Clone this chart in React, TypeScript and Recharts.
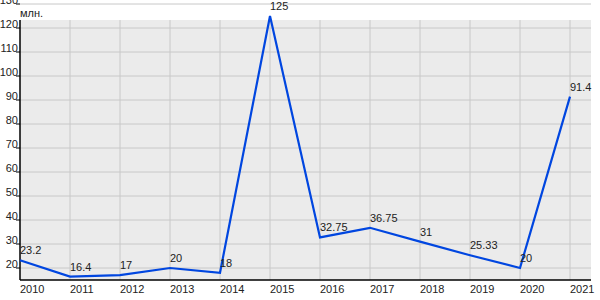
import React from "react"
import {
  ComposedChart,
  Line,
  XAxis,
  YAxis,
  ReferenceArea,
  ReferenceLine,
  LabelList,
} from "recharts"

const years = [2010, 2011, 2012, 2013, 2014, 2015, 2016, 2017, 2018, 2019, 2020, 2021]
const values = [23.2, 16.4, 17, 20, 18, 125, 32.75, 36.75, 31, 25.33, 20, 91.4]
const yTicks = [20, 30, 40, 50, 60, 70, 80, 90, 100, 110, 120, 130]

const data = years.map((year, i) => ({ year, value: values[i] }))

const FONT = "'Liberation Sans', Arial, sans-serif"
const X_MAX = 2021.42
const Y_MIN = 15
const Y_MAX = 130
const BG_TOP = 123.3

const XTick = (props: any) => (
  <text x={props.x} y={props.y} dy={5} textAnchor="start" fontSize={11} fontFamily={FONT} fill="#222">
    {props.payload.value}
  </text>
)

const YTick = (props: any) => (
  <text x={props.x} y={props.y} dx={4} textAnchor="end" fontSize={11} fontFamily={FONT} fill="#222">
    {props.payload.value}
  </text>
)

const PointLabel = (props: any) => (
  <text x={props.x} y={props.y} dy={-6} textAnchor="start" fontSize={11} fontFamily={FONT} fill="#222">
    {props.value}
  </text>
)

export default function App() {
  return (
    <div style={{ position: "absolute", left: 0, top: 0, width: 600, height: 300, background: "#fff" }}>
      <ComposedChart width={600} height={300} data={data} margin={{ top: 4, right: 9, left: 0, bottom: 0 }}>
        <ReferenceArea x1={2010} x2={X_MAX} y1={Y_MIN} y2={BG_TOP} fill="#ebebeb" fillOpacity={1} stroke="none" />
        {yTicks.map((t) => (
          <ReferenceLine key={"h" + t} y={t} stroke="#c8c8c8" />
        ))}
        {years.slice(1).map((y) => (
          <ReferenceLine
            key={"v" + y}
            segment={[{ x: y, y: Y_MIN }, { x: y, y: BG_TOP }]}
            stroke="#c8c8c8"
          />
        ))}
        <ReferenceLine segment={[{ x: 2010, y: Y_MIN }, { x: 2010, y: BG_TOP }]} stroke="#000" strokeWidth={1.5} />
        <XAxis
          dataKey="year"
          type="number"
          domain={[2010, X_MAX]}
          ticks={years}
          tickLine={false}
          axisLine={{ stroke: "#000", strokeWidth: 1.5 }}
          tick={<XTick />}
          height={20}
          interval={0}
        />
        <YAxis
          type="number"
          domain={[Y_MIN, Y_MAX]}
          ticks={yTicks}
          axisLine={false}
          tickLine={{ stroke: "#000" }}
          tickSize={4}
          tick={<YTick />}
          width={20}
          interval={0}
        />
        <Line dataKey="value" stroke="none" dot={false} isAnimationActive={false}>
          <LabelList dataKey="value" content={<PointLabel />} />
        </Line>
        <Line
          dataKey="value"
          type="linear"
          stroke="#0046e0"
          strokeWidth={2.2}
          dot={false}
          isAnimationActive={false}
        />
      </ComposedChart>
      <div
        style={{
          position: "absolute",
          left: 20,
          top: 7,
          fontSize: 11,
          fontFamily: FONT,
          color: "#222",
          lineHeight: "12px",
        }}
      >
        млн.
      </div>
    </div>
  )
}
